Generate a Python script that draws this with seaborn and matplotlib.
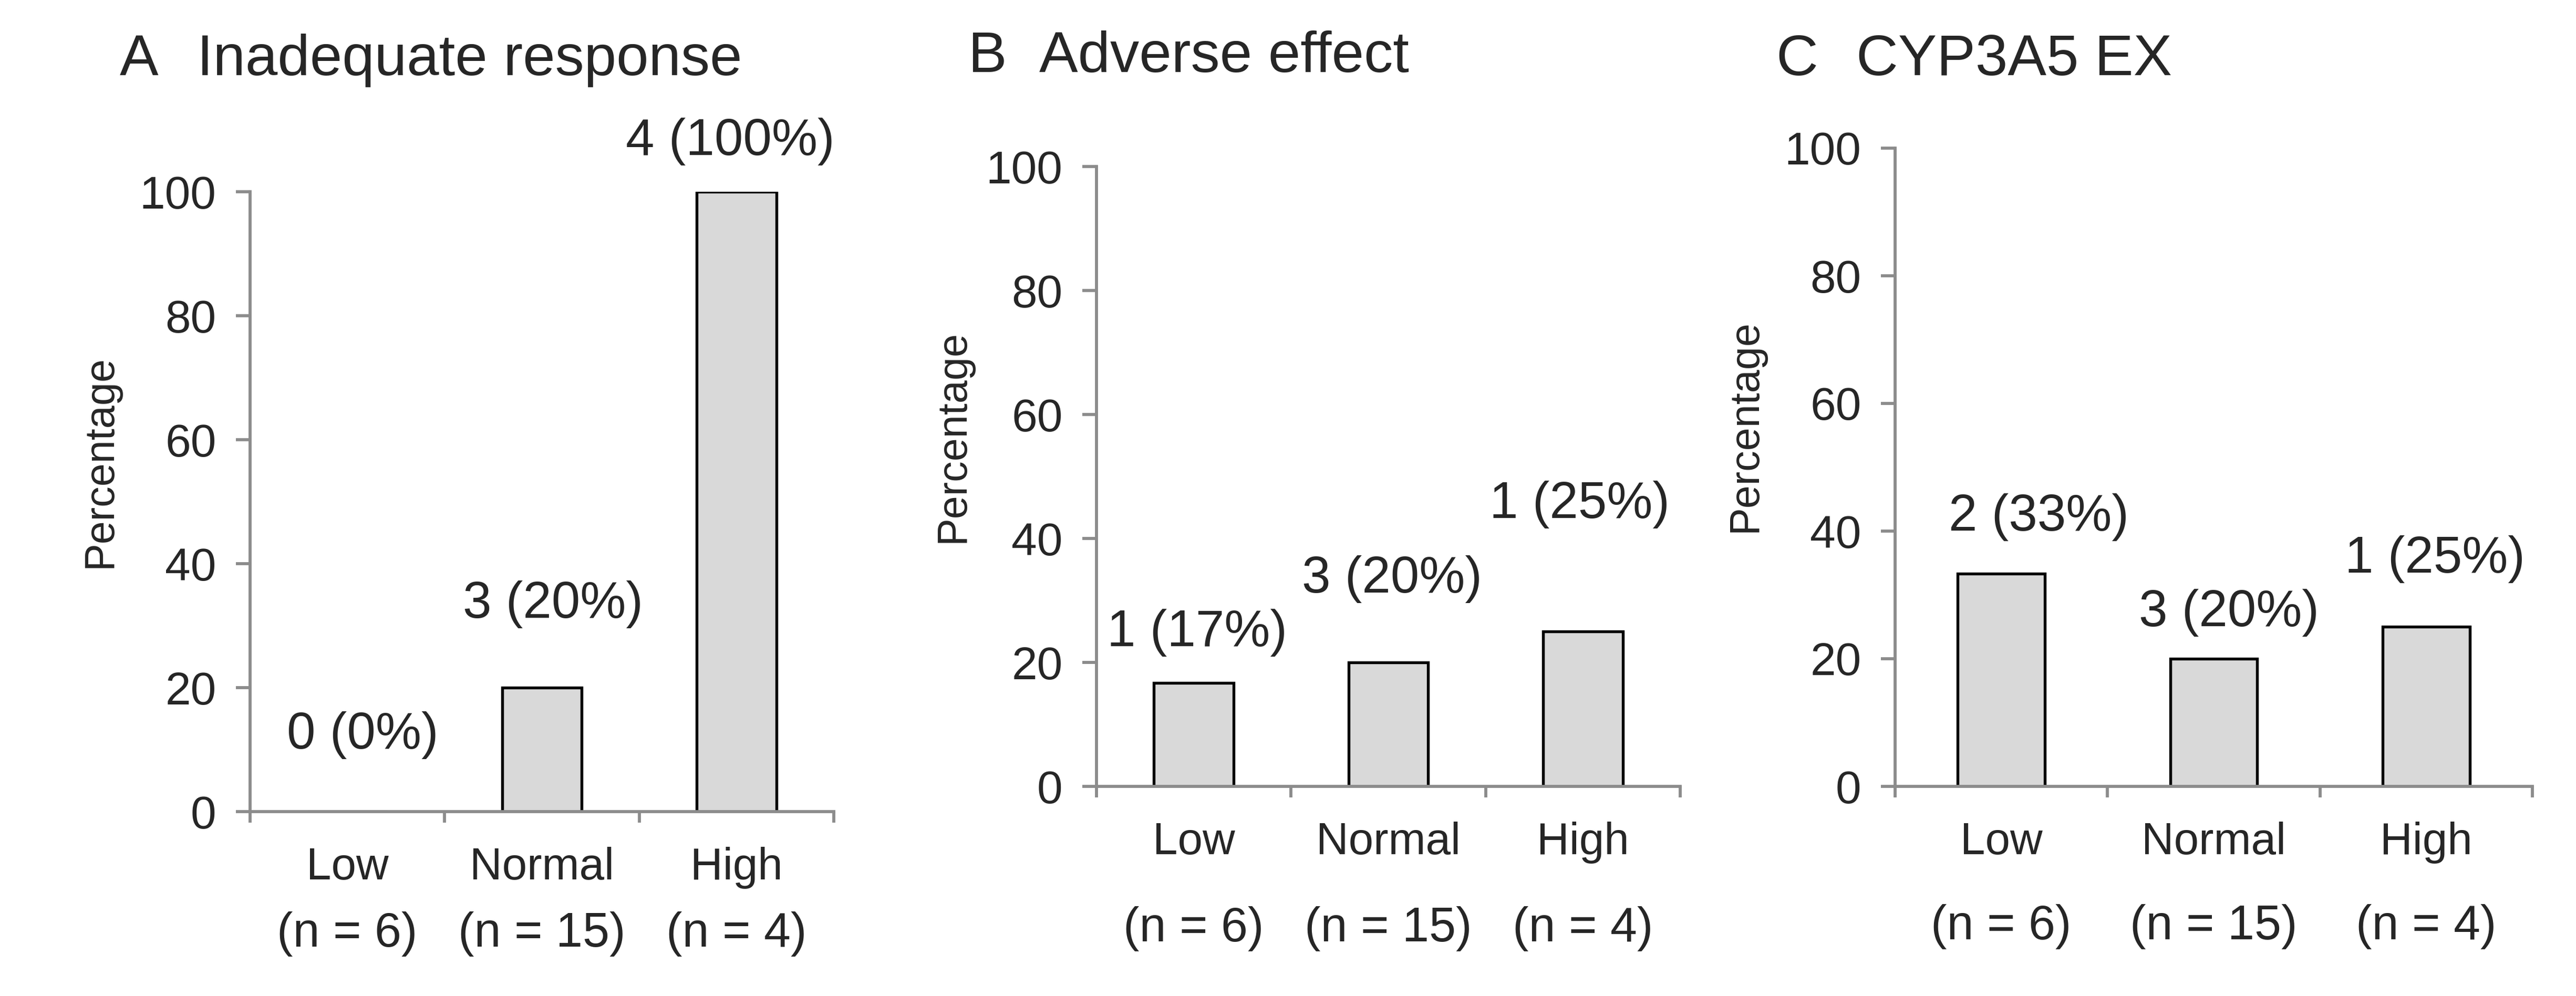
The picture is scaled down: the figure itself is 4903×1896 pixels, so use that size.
import pandas as pd
import matplotlib
matplotlib.use("Agg")
import matplotlib.pyplot as plt
import seaborn as sns

# data
categories = ["Low", "Normal", "High"]
n_counts = [6, 15, 4]

panel_letters = ["A", "B", "C"]
panel_titles = ["Inadequate response", "Adverse effect", "CYP3A5 EX"]

counts_a = [0, 3, 4]
pct_a = [0, 20, 100]
counts_b = [1, 3, 1]
pct_b = [16.7, 20, 25]
counts_c = [2, 3, 1]
pct_c = [33.3, 20, 25]

# layout (pixels of the 4903x1896 canvas)
W, H = 4903, 1896
DPI = 300
axes_px = [  # left, right, zero-line y, top y
    (476, 1587, 1545, 365),
    (2087, 3198, 1497, 317),
    (3607, 4820, 1497, 282),
]
title_px = [  # letter x, text x, centre y
    (228, 375, 115),
    (1843, 1978, 109),
    (3380, 3533, 115),
]
# offsets of the value labels from the bar top (points)
label_offsets = [
    [(7, 35), (5, 38), (-3, 23)],
    [(1.5, 23), (1.7, 38), (-1.5, 58)],
    [(17, 26), (7, 21), (4, 31)],
]
n_offsets = [-56, -65, -64]
ylabel_x = [-0.223, -0.212, -0.204]

AXIS_GREY = "#8c8c8c"
BAR_GREY = "#d9d9d9"


def main():
    sns.set_style("white")
    plt.rcParams["font.family"] = ["Liberation Sans", "DejaVu Sans"]

    fig = plt.figure(figsize=(W / DPI, H / DPI), dpi=DPI)

    panels = [(counts_a, pct_a), (counts_b, pct_b), (counts_c, pct_c)]
    for k, (counts, pct) in enumerate(panels):
        left, right, y0, ytop = axes_px[k]
        ax = fig.add_axes([left / W, 1 - y0 / H, (right - left) / W, (y0 - ytop) / H])

        df = pd.DataFrame({"group": categories, "pct": pct})
        sns.barplot(data=df, x="group", y="pct", ax=ax, color=BAR_GREY,
                    width=0.41, edgecolor="black", linewidth=1.3, saturation=1)

        ax.set_ylim(0, 100)
        ax.set_xlim(-0.5, len(categories) - 0.5)
        ax.set_yticks(range(0, 101, 20))
        ax.tick_params(axis="y", labelsize=21, length=6.5, width=1.4,
                       color=AXIS_GREY, pad=9, direction="out", left=True)
        ax.tick_params(axis="x", which="major", labelsize=20.5, length=0, pad=16)
        ax.set_xticks(range(len(categories)))
        ax.set_xticks([i - 0.5 for i in range(len(categories) + 1)], minor=True)
        ax.tick_params(axis="x", which="minor", length=5, width=1.4,
                       color=AXIS_GREY, direction="out", bottom=True)

        sns.despine(ax=ax)
        for side in ["left", "bottom"]:
            ax.spines[side].set_color(AXIS_GREY)
            ax.spines[side].set_linewidth(1.4)

        ax.set_xlabel("")
        ax.set_ylabel("Percentage", fontsize=19)
        ax.yaxis.set_label_coords(ylabel_x[k], 0.565)

        for i, (c, p) in enumerate(zip(counts, pct)):
            dx, dy = label_offsets[k][i]
            ax.annotate(f"{c} ({p:.0f}%)", (i, p), xytext=(dx, dy),
                        textcoords="offset points", ha="center", va="center",
                        fontsize=23.5)
            ax.annotate(f"(n = {n_counts[i]})", (i, 0), xytext=(0, n_offsets[k]),
                        textcoords="offset points", ha="center", va="center",
                        fontsize=22, annotation_clip=False)

        lx, tx, ty = title_px[k]
        fig.text(lx / W, 1 - ty / H, panel_letters[k], fontsize=26.5, va="center")
        fig.text(tx / W, 1 - ty / H, panel_titles[k], fontsize=26.5, va="center")

    fig.savefig("out.png", dpi=DPI)
    plt.close(fig)


if __name__ == "__main__":
    main()
